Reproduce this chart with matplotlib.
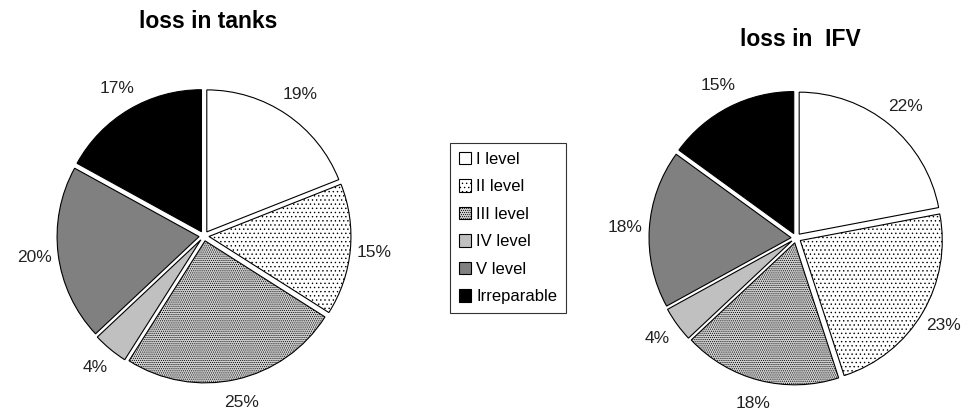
import matplotlib.pyplot as plt

plt.rcParams['font.family'] = ['Liberation Sans', 'DejaVu Sans']
plt.rcParams['hatch.linewidth'] = 0.5

# data
levels = ["I level", "II level", "III level", "IV level", "V level", "Irreparable"]
loss_tanks = [19, 15, 25, 4, 20, 17]
loss_ifv = [22, 23, 18, 4, 18, 15]
titles = ["loss in tanks", "loss in  IFV"]

# styles (Excel-like greyscale with dot patterns)
face = ["white", "white", "#d0d0d0", "#c0c0c0", "#808080", "black"]
hatch = [None, "....", "........", None, None, None]

W, H = 971, 412
fig = plt.figure(figsize=(W / 100, H / 100), dpi=100)

R = 142  # pixels for a unit radius
lim = 1.45


def pie_axes(cx, cy):
    side = 2 * lim * R
    return fig.add_axes([(cx - side / 2) / W, 1 - (cy + side / 2) / H, side / W, side / H])


wedge_sets = []
for vals, (cx, cy) in zip([loss_tanks, loss_ifv], [(204, 236), (796, 238)]):
    ax = pie_axes(cx, cy)
    wedges, texts, autotexts = ax.pie(
        vals, startangle=90, counterclock=False, explode=[0.035] * len(vals),
        colors=face, autopct='%1.0f%%', pctdistance=1.17,
        wedgeprops=dict(edgecolor="black", linewidth=0.8),
        textprops=dict(fontsize=12.5, color="#222222"))
    for w, h in zip(wedges, hatch):
        if h:
            w.set_hatch(h)
    ax.set_xlim(-lim, lim)
    ax.set_ylim(-lim, lim)
    ax.set_aspect('equal')
    ax.axis('off')
    wedge_sets.append(wedges)

fig.text(208 / W, 1 - 22 / H, titles[0], ha='center', va='center',
         fontsize=16.5, fontweight='bold')
fig.text(800 / W, 1 - 40 / H, titles[1], ha='center', va='center',
         fontsize=16.5, fontweight='bold')

leg = fig.legend(wedge_sets[0], levels, loc='center', bbox_to_anchor=(508 / W, 1 - 228 / H),
                 fontsize=12, frameon=True, fancybox=False, edgecolor='black',
                 handlelength=0.75, handleheight=0.75, handletextpad=0.3,
                 labelspacing=0.75, borderpad=0.5, borderaxespad=0)
leg.get_frame().set_linewidth(0.8)

fig.savefig("out.png", dpi=100)
